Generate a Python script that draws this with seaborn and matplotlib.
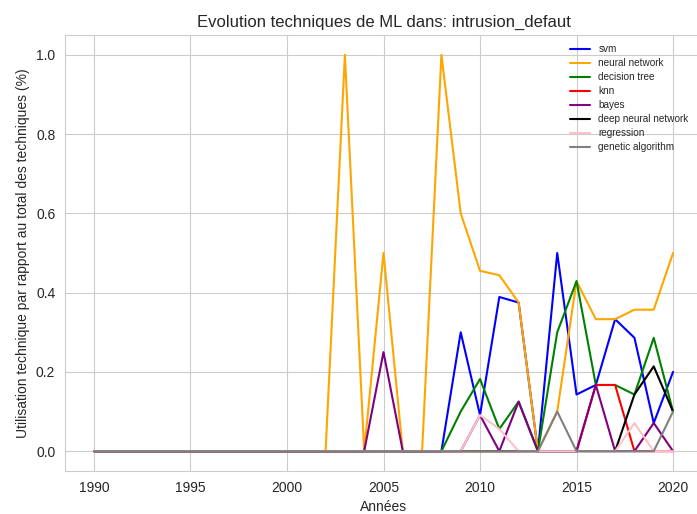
import matplotlib
matplotlib.use("Agg")
import matplotlib.pyplot as plt
import seaborn as sns

# --------------------------------------------------------------
# Data (share of each technique per year)
# --------------------------------------------------------------
years = list(range(1990, 2021))

svm = [0, 0, 0, 0, 0, 0, 0, 0, 0, 0,
       0, 0, 0, 0, 0, 0, 0, 0, 0, 0.3,
       0.091, 0.389, 0.375, 0, 0.5, 0.143, 0.167, 0.333, 0.286, 0.071,
       0.2]
neural_network = [0, 0, 0, 0, 0, 0, 0, 0, 0, 0,
                  0, 0, 0, 1.0, 0, 0.5, 0, 0, 1.0, 0.6,
                  0.455, 0.444, 0.375, 0, 0.1, 0.429, 0.333, 0.333, 0.357, 0.357,
                  0.5]
decision_tree = [0, 0, 0, 0, 0, 0, 0, 0, 0, 0,
                 0, 0, 0, 0, 0, 0, 0, 0, 0, 0.1,
                 0.182, 0.056, 0.125, 0, 0.3, 0.429, 0.167, 0.167, 0.143, 0.286,
                 0.1]
knn = [0, 0, 0, 0, 0, 0, 0, 0, 0, 0,
       0, 0, 0, 0, 0, 0, 0, 0, 0, 0,
       0, 0, 0, 0, 0, 0, 0.167, 0.167, 0, 0,
       0]
bayes = [0, 0, 0, 0, 0, 0, 0, 0, 0, 0,
         0, 0, 0, 0, 0, 0.25, 0, 0, 0, 0,
         0.091, 0, 0.125, 0, 0, 0, 0.167, 0, 0, 0.071,
         0]
deep_neural_network = [0, 0, 0, 0, 0, 0, 0, 0, 0, 0,
                       0, 0, 0, 0, 0, 0, 0, 0, 0, 0,
                       0, 0, 0, 0, 0, 0, 0, 0, 0.143, 0.214,
                       0.1]
regression = [0, 0, 0, 0, 0, 0, 0, 0, 0, 0,
              0, 0, 0, 0, 0, 0, 0, 0, 0, 0,
              0.091, 0.056, 0, 0, 0, 0, 0, 0, 0.071, 0,
              0]
genetic_algorithm = [0, 0, 0, 0, 0, 0, 0, 0, 0, 0,
                     0, 0, 0, 0, 0, 0, 0, 0, 0, 0,
                     0, 0, 0, 0, 0.1, 0, 0, 0, 0, 0,
                     0.1]

labels = ["svm", "neural network", "decision tree", "knn", "bayes",
          "deep neural network", "regression", "genetic algorithm"]
series = [svm, neural_network, decision_tree, knn, bayes,
          deep_neural_network, regression, genetic_algorithm]
colors = ["blue", "orange", "green", "red", "purple", "black", "pink", "gray"]

# --------------------------------------------------------------
# Plot
# --------------------------------------------------------------
sns.set_style("whitegrid")
plt.rcParams["font.family"] = ["Liberation Sans", "DejaVu Sans"]

fig = plt.figure(figsize=(6.97, 5.14), dpi=100)
ax = fig.add_axes([65 / 697, 43 / 514, 637 / 697, 436 / 514])

for vals, lab, col in zip(series, labels, colors):
    sns.lineplot(x=years, y=vals, color=col, label=lab, ax=ax)

ax.set_title("Evolution techniques de ML dans: intrusion_defaut")
ax.set_xlabel("Années")
ax.set_ylabel("Utilisation technique par rapport au total des techniques (%)")
ax.legend(loc="upper right", bbox_to_anchor=(0.993, 1.0), fontsize=7.2,
          frameon=False, labelspacing=0.4)

fig.savefig("out.png", dpi=100)
